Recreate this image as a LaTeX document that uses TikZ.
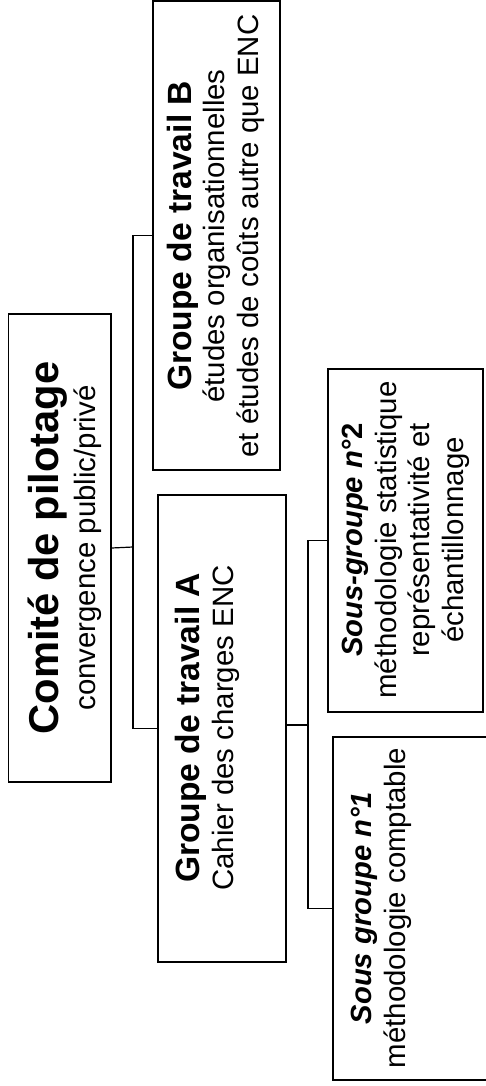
\documentclass[tikz,border=0pt]{standalone}
\usepackage{fontspec}
\setmainfont{Liberation Sans}
\begin{document}
\tikzset{
  box/.style={draw, rotate=90, inner sep=0pt, line width=1.3pt},
  txt/.style={rotate=90, anchor=base, align=center, inner sep=0pt,
    font=\fontsize{29.4}{33.5}\selectfont},
  link/.style={line width=1.2pt},
}
\newcommand{\cttitle}[1]{{\fontsize{41.7}{37}\selectfont\bfseries #1}}
\newcommand{\gttitle}[1]{{\fontsize{33.6}{33.5}\selectfont\bfseries #1}}
\newcommand{\sgtitle}[1]{{\fontsize{29.2}{33.5}\selectfont\bfseries #1}}
\begin{tikzpicture}[x=1pt,y=-1pt]
\useasboundingbox (0,0) rectangle (485,1086);

% boxes
\node[box, minimum width=468pt, minimum height=102.5pt] (com) at (59.75,548) {};
\node[box, minimum width=469pt, minimum height=127pt] (gtB) at (216.5,235.5) {};
\node[box, minimum width=467pt, minimum height=128pt] (gtA) at (222,728.5) {};
\node[box, minimum width=343pt, minimum height=155pt] (sg2) at (405.5,540.5) {};
\node[box, minimum width=343pt, minimum height=155pt] (sg1) at (410.5,908.5) {};

% texts (placed on the baseline of their last line)
\node[txt, font=\fontsize{29.4}{37}\selectfont] (comT) at (95,548)
  {\cttitle{Comité de pilotage}\\convergence public/privé};
\node[txt] (gtBT) at (258,236)
  {\gttitle{Groupe de travail B}\\études organisationnelles\\et études de coûts autre que ENC};
\node[txt] (gtAT) at (233,728)
  {\gttitle{Groupe de travail A}\\Cahier des charges ENC};
\node[txt] (sg2T) at (463,540)
  {\sgtitle{\itshape Sous-groupe n\upshape°2}\\méthodologie statistique\\représentativité et\\échantillonnage};
\node[txt] (sg1T) at (405,908)
  {\sgtitle{\itshape Sous groupe n°1}\\méthodologie comptable};

% connectors
\coordinate (j1) at (133,547);
\coordinate (j2) at (308,725);
\draw[link] (com.south) -- (j1);
\draw[link] (gtB.north) -| (j1) |- (gtA.north);
\draw[link] (gtA.south |- j2) -- (j2);
\draw[link] (sg2.north) -| (j2) |- (sg1.north);
\end{tikzpicture}
\end{document}
